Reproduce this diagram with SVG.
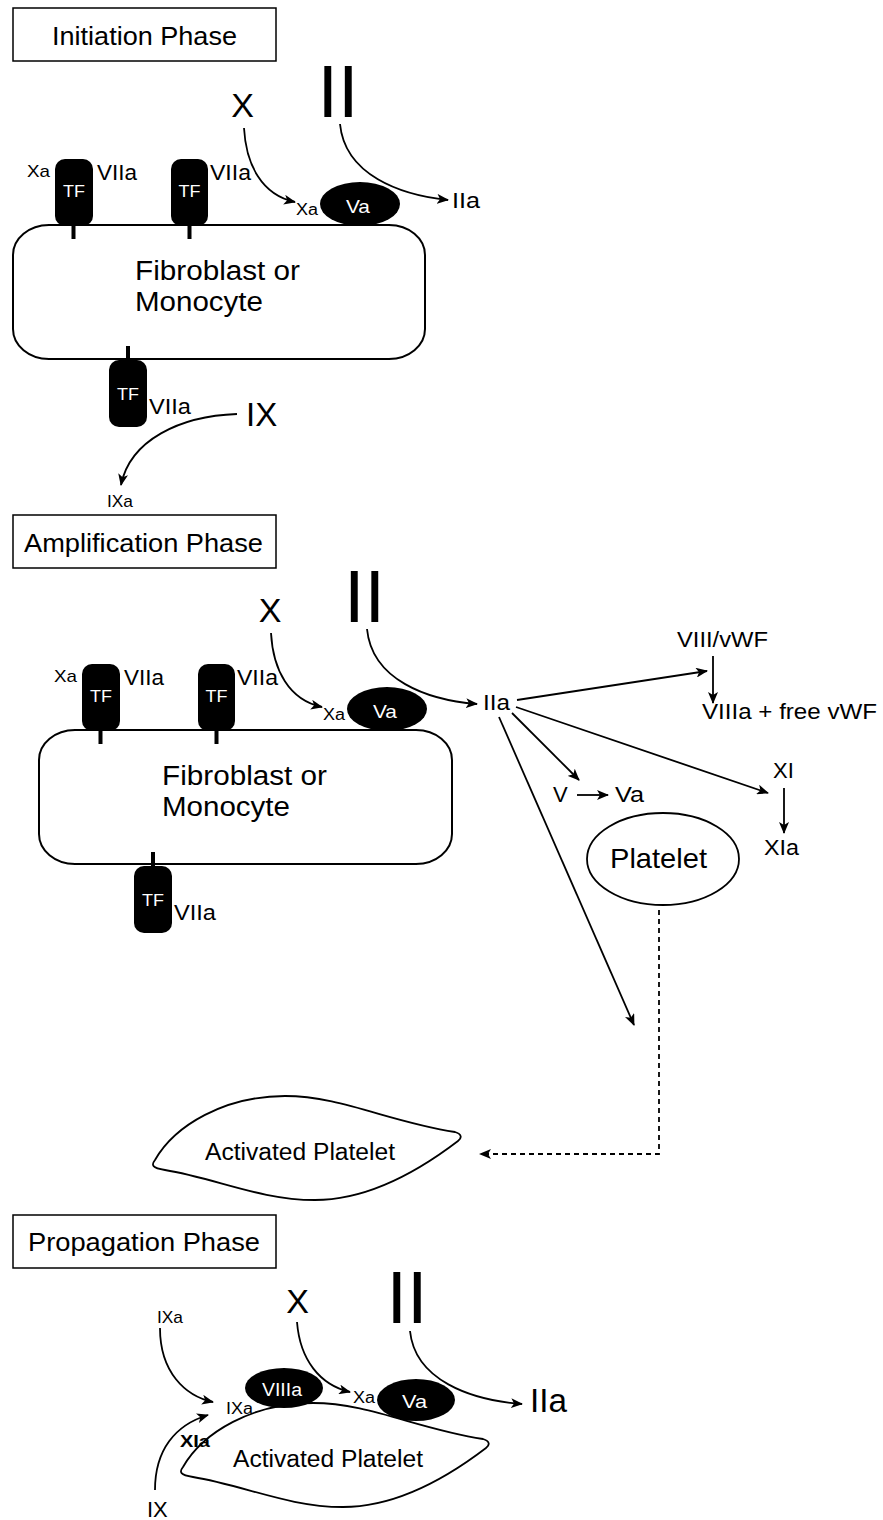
<svg xmlns="http://www.w3.org/2000/svg" width="883" height="1520" viewBox="0 0 883 1520">
<style>
.t{font-family:"Liberation Sans",Arial,sans-serif;fill:#000}
.w{font-family:"Liberation Sans",Arial,sans-serif;fill:#fff}
.m{text-anchor:middle}
.box{fill:#fff;stroke:#000;stroke-width:1.5}
.cell{fill:#fff;stroke:#000;stroke-width:2}
.blk{fill:#000}
.ln{fill:none;stroke:#000;stroke-width:1.8}
.arr{marker-end:url(#ah)}
.dash{stroke-dasharray:5,4}
</style>
<defs>
<marker id="ah" viewBox="0 0 12 10" refX="11" refY="5" markerWidth="12" markerHeight="10" markerUnits="userSpaceOnUse" orient="auto">
<path d="M0,0 L12,5 L0,10 L3,5 Z" fill="#000"/>
</marker>
<path id="actp" d="M155,1160 C175,1125 225,1096 285,1096 C340,1096 390,1122 455,1132 C462,1134 462,1138 458,1141 C420,1170 370,1200 315,1200 C260,1200 215,1178 165,1170 C152,1168 151,1165 155,1160 Z"/>
</defs>

<!-- ===== Initiation Phase ===== -->
<g id="init-title">
<rect class="box" x="13" y="8" width="263" height="53"/>
<text class="t m" x="144.5" y="45" font-size="25" textLength="185" lengthAdjust="spacingAndGlyphs">Initiation Phase</text>
</g>
<g id="init-cell">
<rect class="cell" x="13" y="225" width="412" height="134" rx="36" ry="30"/>
<text class="t" x="135" y="280" font-size="27" textLength="165" lengthAdjust="spacingAndGlyphs">Fibroblast or</text>
<text class="t" x="135" y="311" font-size="27" textLength="128" lengthAdjust="spacingAndGlyphs">Monocyte</text>
</g>
<g id="init-tf1">
<rect class="blk" x="71.5" y="224" width="4" height="15"/>
<rect class="blk" x="55" y="159" width="38" height="67" rx="10"/>
<text class="w m" x="74" y="197" font-size="17" textLength="22" lengthAdjust="spacingAndGlyphs">TF</text>
<text class="t" x="27" y="177" font-size="17" textLength="23" lengthAdjust="spacingAndGlyphs">Xa</text>
<text class="t" x="97" y="180" font-size="22" textLength="40" lengthAdjust="spacingAndGlyphs">VIIa</text>
</g>
<g id="init-tf2">
<rect class="blk" x="187.5" y="224" width="4" height="15"/>
<rect class="blk" x="171" y="159" width="37" height="67" rx="10"/>
<text class="w m" x="189.5" y="197" font-size="17" textLength="22" lengthAdjust="spacingAndGlyphs">TF</text>
<text class="t" x="210" y="180" font-size="22" textLength="41" lengthAdjust="spacingAndGlyphs">VIIa</text>
</g>
<g id="init-tf3">
<rect class="blk" x="126" y="346" width="4" height="15"/>
<rect class="blk" x="109" y="360" width="38" height="67" rx="10"/>
<text class="w m" x="128" y="400" font-size="17" textLength="22" lengthAdjust="spacingAndGlyphs">TF</text>
<text class="t" x="149" y="414" font-size="22" textLength="42" lengthAdjust="spacingAndGlyphs">VIIa</text>
</g>
<g id="init-x"><text class="t m" x="242.5" y="117" font-size="34">X</text></g>
<g id="init-ii"><text class="t m" x="338" y="117" font-size="74">II</text></g>
<g id="init-va">
<ellipse class="blk" cx="360" cy="204" rx="40" ry="22"/>
<text class="w m" x="358" y="213" font-size="19" textLength="24" lengthAdjust="spacingAndGlyphs">Va</text>
<text class="t" x="296" y="215" font-size="16" textLength="22" lengthAdjust="spacingAndGlyphs">Xa</text>
</g>
<g id="init-iia"><text class="t" x="452" y="208" font-size="22" textLength="28" lengthAdjust="spacingAndGlyphs">IIa</text></g>
<g id="init-ix"><text class="t" x="246" y="426" font-size="33">IX</text></g>
<g id="init-ixa"><text class="t" x="107" y="507" font-size="17" textLength="26" lengthAdjust="spacingAndGlyphs">IXa</text></g>

<!-- ===== Amplification Phase ===== -->
<g id="amp-title">
<rect class="box" x="13" y="515" width="263" height="53"/>
<text class="t m" x="143.5" y="552" font-size="25" textLength="239" lengthAdjust="spacingAndGlyphs">Amplification Phase</text>
</g>
<g id="amp-cell">
<rect class="cell" x="39" y="730" width="413" height="134" rx="36" ry="30"/>
<text class="t" x="162" y="785" font-size="27" textLength="165" lengthAdjust="spacingAndGlyphs">Fibroblast or</text>
<text class="t" x="162" y="816" font-size="27" textLength="128" lengthAdjust="spacingAndGlyphs">Monocyte</text>
</g>
<g id="amp-tf1" transform="translate(27,505)">
<rect class="blk" x="71.5" y="224" width="4" height="15"/>
<rect class="blk" x="55" y="159" width="38" height="67" rx="10"/>
<text class="w m" x="74" y="197" font-size="17" textLength="22" lengthAdjust="spacingAndGlyphs">TF</text>
<text class="t" x="27" y="177" font-size="17" textLength="23" lengthAdjust="spacingAndGlyphs">Xa</text>
<text class="t" x="97" y="180" font-size="22" textLength="40" lengthAdjust="spacingAndGlyphs">VIIa</text>
</g>
<g id="amp-tf2" transform="translate(27,505)">
<rect class="blk" x="187.5" y="224" width="4" height="15"/>
<rect class="blk" x="171" y="159" width="37" height="67" rx="10"/>
<text class="w m" x="189.5" y="197" font-size="17" textLength="22" lengthAdjust="spacingAndGlyphs">TF</text>
<text class="t" x="210" y="180" font-size="22" textLength="41" lengthAdjust="spacingAndGlyphs">VIIa</text>
</g>
<g id="amp-tf3" transform="translate(25,506)">
<rect class="blk" x="126" y="346" width="4" height="15"/>
<rect class="blk" x="109" y="360" width="38" height="67" rx="10"/>
<text class="w m" x="128" y="400" font-size="17" textLength="22" lengthAdjust="spacingAndGlyphs">TF</text>
<text class="t" x="149" y="414" font-size="22" textLength="42" lengthAdjust="spacingAndGlyphs">VIIa</text>
</g>
<g id="amp-x"><text class="t m" x="270" y="622" font-size="34">X</text></g>
<g id="amp-ii"><text class="t m" x="364.5" y="622" font-size="74">II</text></g>
<g id="amp-va">
<ellipse class="blk" cx="387" cy="709" rx="40" ry="22"/>
<text class="w m" x="385" y="718" font-size="19" textLength="24" lengthAdjust="spacingAndGlyphs">Va</text>
<text class="t" x="323" y="720" font-size="16" textLength="22" lengthAdjust="spacingAndGlyphs">Xa</text>
</g>
<g id="amp-iia"><text class="t" x="483" y="710" font-size="22" textLength="27" lengthAdjust="spacingAndGlyphs">IIa</text></g>
<g id="amp-viii"><text class="t" x="677" y="647" font-size="22" textLength="91" lengthAdjust="spacingAndGlyphs">VIII/vWF</text></g>
<g id="amp-viiia"><text class="t" x="702" y="719" font-size="22" textLength="175" lengthAdjust="spacingAndGlyphs">VIIIa + free vWF</text></g>
<g id="amp-xi"><text class="t" x="773" y="778" font-size="22">XI</text></g>
<g id="amp-xia"><text class="t" x="764" y="855" font-size="22" textLength="35" lengthAdjust="spacingAndGlyphs">XIa</text></g>
<g id="amp-v"><text class="t" x="553" y="802" font-size="22">V</text></g>
<g id="amp-va2"><text class="t" x="615" y="802" font-size="22" textLength="29" lengthAdjust="spacingAndGlyphs">Va</text></g>
<g id="amp-platelet">
<ellipse fill="#fff" stroke="#000" stroke-width="1.8" cx="663" cy="859" rx="76" ry="46"/>
<text class="t m" x="658.5" y="868" font-size="28" textLength="97" lengthAdjust="spacingAndGlyphs">Platelet</text>
</g>
<g id="amp-activated">
<use href="#actp" fill="#fff" stroke="#000" stroke-width="1.8"/>
<text class="t m" x="300" y="1160" font-size="23" textLength="190" lengthAdjust="spacingAndGlyphs">Activated Platelet</text>
</g>

<!-- ===== Propagation Phase ===== -->
<g id="prop-title">
<rect class="box" x="13" y="1215" width="263" height="53"/>
<text class="t m" x="144" y="1251" font-size="25" textLength="232" lengthAdjust="spacingAndGlyphs">Propagation Phase</text>
</g>
<g id="prop-activated">
<use href="#actp" transform="translate(28,307)" fill="#fff" stroke="#000" stroke-width="1.8"/>
<text class="t m" x="328" y="1467" font-size="23" textLength="190" lengthAdjust="spacingAndGlyphs">Activated Platelet</text>
</g>
<g id="prop-viiia">
<ellipse class="blk" cx="284" cy="1388" rx="39" ry="20"/>
<text class="w m" x="282" y="1396" font-size="18" textLength="40" lengthAdjust="spacingAndGlyphs">VIIIa</text>
<text class="t" x="226" y="1414" font-size="16" textLength="27" lengthAdjust="spacingAndGlyphs">IXa</text>
</g>
<g id="prop-va">
<ellipse class="blk" cx="416" cy="1400" rx="39" ry="21"/>
<text class="w m" x="414.5" y="1408" font-size="19" textLength="25" lengthAdjust="spacingAndGlyphs">Va</text>
<text class="t" x="353" y="1403" font-size="16" textLength="22" lengthAdjust="spacingAndGlyphs">Xa</text>
</g>
<g id="prop-x"><text class="t m" x="297.5" y="1313" font-size="34">X</text></g>
<g id="prop-ii"><text class="t m" x="407" y="1323" font-size="74">II</text></g>
<g id="prop-iia"><text class="t" x="530" y="1412" font-size="33" textLength="37" lengthAdjust="spacingAndGlyphs">IIa</text></g>
<g id="prop-ixa"><text class="t" x="157" y="1323" font-size="17" textLength="26" lengthAdjust="spacingAndGlyphs">IXa</text></g>
<g id="prop-ix"><text class="t" x="147" y="1517" font-size="22">IX</text></g>
<g id="prop-xia"><text class="t" x="180" y="1447" font-size="17" font-weight="bold" textLength="30" lengthAdjust="spacingAndGlyphs">XIa</text></g>

<!-- ===== Connectors ===== -->
<g id="connectors">
<path class="ln arr" d="M244,128 C246,165 262,195 295,202"/>
<path class="ln arr" d="M340,124 C345,175 400,195 448,200"/>
<path class="ln arr" d="M237,414 C180,416 130,440 121,485"/>

<path class="ln arr" d="M271,633 C273,670 289,700 322,707"/>
<path class="ln arr" d="M367,629 C372,680 427,700 477,704"/>
<path class="ln arr" d="M517,700 L707,671"/>
<path class="ln arr" d="M713,656 L713,703"/>
<path class="ln arr" d="M516,707 L768,793"/>
<path class="ln arr" d="M784,788 L784,833"/>
<path class="ln arr" d="M512,713 L579,780"/>
<path class="ln arr" d="M577,795 L608,795"/>
<path class="ln arr" d="M499,717 L634,1025"/>
<path class="ln arr dash" d="M659,910 L659,1154 L480,1154"/>

<path class="ln arr" d="M160,1328 C160,1372 185,1396 213,1402"/>
<path class="ln arr" d="M155,1490 C155,1450 175,1425 208,1415"/>
<path class="ln arr" d="M297,1322 C300,1360 320,1385 350,1392"/>
<path class="ln arr" d="M410,1331 C415,1380 470,1400 522,1404"/>
</g>
</svg>
